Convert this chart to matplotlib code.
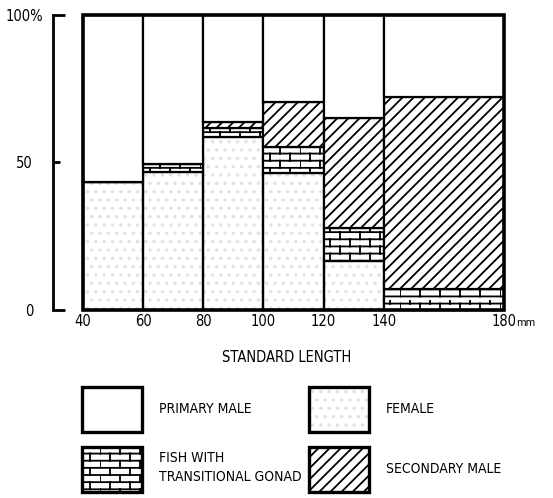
import warnings
import numpy as np
import matplotlib as mpl
mpl.use('Agg')
import matplotlib.pyplot as plt
import matplotlib.hatch as mhatch
from matplotlib.path import Path
from matplotlib.patches import Patch
from matplotlib.transforms import ScaledTranslation

warnings.filterwarnings('ignore')

# size classes (standard length, mm) and percentages per class
edges = [40, 60, 80, 100, 120, 140, 180]
female = [43.4, 46.8, 58.8, 46.3, 16.6, 0.0]
transitional = [0.0, 2.7, 2.9, 9.1, 11.3, 7.0]
secondary = [0.0, 0.0, 2.1, 15.0, 37.3, 65.3]
primary = [100 - f - t - s for f, t, s in zip(female, transitional, secondary)]

xticks = [40, 60, 80, 100, 120, 140, 180]
yticks = [0, 100]
ylabels = ['0', '100%']


# brick pattern as a custom hatch ('b')
class BrickHatch(mhatch.HatchPatternBase):
    def __init__(self, hatch, density):
        self.nrows = 14 if 'b' in hatch else 0
        self.nbricks = 5
        self.num_vertices = (self.nrows + self.nrows * self.nbricks) * 2

    def set_vertices_and_codes(self, vertices, codes):
        n, m = self.nrows, self.nbricks
        h = 1.0 / n
        k = 0
        for i in range(n):
            y = (i + 0.5) * h
            vertices[k] = (0.0, y)
            vertices[k + 1] = (1.0, y)
            codes[k] = Path.MOVETO
            codes[k + 1] = Path.LINETO
            k += 2
            for j in range(m):
                x = (j + 0.5 * (i % 2)) / m
                vertices[k] = (x, y)
                vertices[k + 1] = (x, y + h)
                codes[k] = Path.MOVETO
                codes[k + 1] = Path.LINETO
                k += 2


mhatch._hatch_types.append(BrickHatch)

plt.rcParams['font.family'] = ['DejaVu Sans']
plt.rcParams['font.stretch'] = 'condensed'
plt.rcParams['hatch.linewidth'] = 1.3

STIPPLE = '#e2e2e2'

fig = plt.figure(figsize=(5.53, 4.98), dpi=100)
ax = fig.add_axes([53 / 553, 188 / 498, 451 / 553, 295 / 498])

left = np.array(edges[:-1])
width = np.diff(edges)
lw = 1.6

# female (stipple) at the bottom
ax.bar(left, female, width=width, align='edge', color='white',
       edgecolor=STIPPLE, hatch='..', linewidth=0, clip_on=False)
ax.bar(left, female, width=width, align='edge', fill=False,
       edgecolor='black', linewidth=lw, clip_on=False)
b1 = np.array(female)
ax.bar(left, transitional, bottom=b1, width=width, align='edge', color='white',
       edgecolor='black', hatch='b', linewidth=lw, clip_on=False)
b2 = b1 + np.array(transitional)
ax.bar(left, secondary, bottom=b2, width=width, align='edge', color='white',
       edgecolor='black', hatch='///', linewidth=lw, clip_on=False)
b3 = b2 + np.array(secondary)
ax.bar(left, primary, bottom=b3, width=width, align='edge', color='white',
       edgecolor='black', linewidth=lw, clip_on=False)
# heavy outer frame
ax.bar(edges[0], 100, width=edges[-1] - edges[0], align='edge', fill=False,
       edgecolor='black', linewidth=2.6, clip_on=False)

ax.set_xlim(30, 180)
ax.set_ylim(0, 100)
for s in ['top', 'right', 'bottom']:
    ax.spines[s].set_visible(False)
ax.spines['left'].set_linewidth(2)

ax.set_yticks(yticks)
ax.set_yticklabels(ylabels)
ax.set_yticks([50], minor=True)
ax.set_yticklabels(['50'], minor=True)
ax.tick_params(axis='y', which='major', direction='in', length=8.6, width=2,
               pad=14.4, labelsize=10.5)
ax.tick_params(axis='y', which='minor', direction='in', length=5, width=2,
               pad=14.4, labelsize=10.5)
# let the % sign stick out past the other labels
lab = ax.yaxis.get_major_ticks()[1].label1
lab.set_transform(lab.get_transform() + ScaledTranslation(7 / 72, 0, fig.dpi_scale_trans))

ax.set_xticks(xticks)
ax.set_xticklabels([str(v) for v in xticks])
ax.tick_params(axis='x', length=0, pad=3, labelsize=10.5)
ax.annotate('mm', xy=(180, 0), xycoords='data', xytext=(9, -11.5),
            textcoords='offset points', ha='left', va='baseline', fontsize=8)

ax.set_xlabel('STANDARD LENGTH', fontsize=10.5)
ax.xaxis.set_label_coords(0.519, -0.135)

# female legend key: stipple under a black outline
fem_key = (Patch(facecolor='white', edgecolor=STIPPLE, hatch='..', linewidth=0),
           Patch(fill=False, edgecolor='black', linewidth=2.4))
handles = [
    Patch(facecolor='white', edgecolor='black', linewidth=2.4),
    Patch(facecolor='white', edgecolor='black', hatch='b', linewidth=2.4),
    fem_key,
    Patch(facecolor='white', edgecolor='black', hatch='///', linewidth=2.4),
]
labels = ['PRIMARY MALE', 'FISH WITH\nTRANSITIONAL GONAD', 'FEMALE', 'SECONDARY MALE']
leg = fig.legend(handles, labels, ncol=2, loc='upper left',
                 bbox_to_anchor=(82 / 553, 1 - 387 / 498), frameon=False,
                 fontsize=10, handlelength=4.3, handleheight=4.6,
                 handletextpad=1.25, columnspacing=0.52, labelspacing=1.08,
                 borderpad=0, borderaxespad=0)
for t in leg.get_texts():
    t.set_linespacing(1.45)

fig.savefig('out.png', dpi=100)
